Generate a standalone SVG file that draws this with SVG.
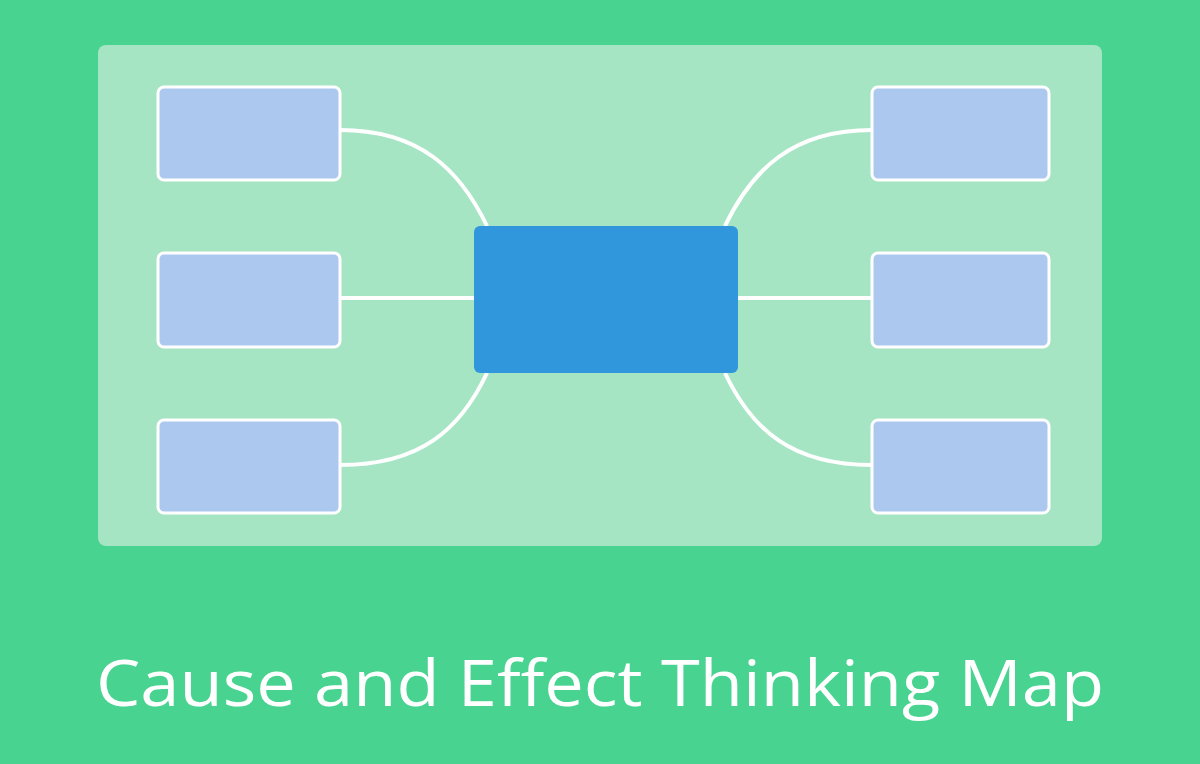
<svg xmlns="http://www.w3.org/2000/svg" width="1200" height="764" viewBox="0 0 1200 764">
<style>
.leaf{fill:#ADC8EE;stroke:#FFFFFF;stroke-width:3}
.con{fill:none;stroke:#FFFFFF;stroke-width:4}
</style>
<rect x="0" y="0" width="1200" height="764" fill="#48D490"/>
<rect x="98" y="45" width="1004" height="501" rx="8" fill="#A6E5C4"/>
<g id="connectors">
<path class="con" d="M340,130 C420,130 460,170 487,226"/>
<path class="con" d="M340,298 L474,298"/>
<path class="con" d="M340,465 C420,465 460,430 487,373"/>
<path class="con" d="M872,130 C792,130 752,170 725,226"/>
<path class="con" d="M872,298 L738,298"/>
<path class="con" d="M872,465 C792,465 752,430 725,373"/>
</g>
<g id="center"><rect x="474" y="226" width="264" height="147" rx="6" fill="#3097DD"/></g>
<g id="cause1"><rect class="leaf" x="158" y="87" width="182" height="93" rx="6"/></g>
<g id="cause2"><rect class="leaf" x="158" y="253" width="182" height="94" rx="6"/></g>
<g id="cause3"><rect class="leaf" x="158" y="420" width="182" height="93" rx="6"/></g>
<g id="effect1"><rect class="leaf" x="872" y="87" width="177" height="93" rx="6"/></g>
<g id="effect2"><rect class="leaf" x="872" y="253" width="177" height="94" rx="6"/></g>
<g id="effect3"><rect class="leaf" x="872" y="420" width="177" height="93" rx="6"/></g>
<text x="600" y="706" text-anchor="middle" font-family="Open Sans, Noto Sans, sans-serif" font-size="64" fill="#FFFFFF" textLength="1008" lengthAdjust="spacingAndGlyphs">Cause and Effect Thinking Map</text>
</svg>
